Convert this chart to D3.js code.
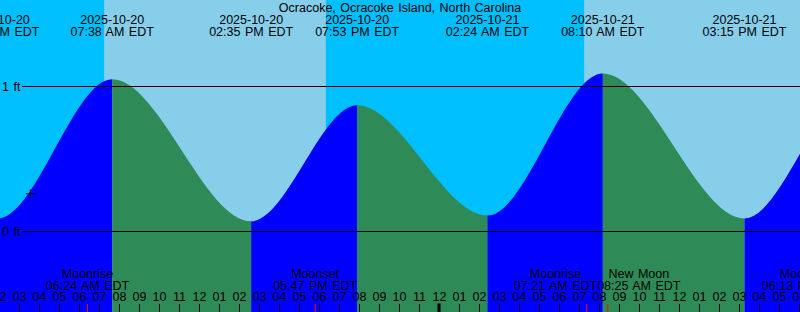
<!DOCTYPE html>
<html>
<head>
<meta charset="utf-8">
<script src="https://cdn.jsdelivr.net/npm/d3@7"></script>
<style>
  body { margin: 0; background: #fff; }
  svg { display: block; font-family: "Liberation Sans", Arial, sans-serif; font-size: 12.5px; word-spacing: 1px; }
</style>
</head>
<body>
<div id="chart"></div>
<script>
const width = 800, height = 312;

const title = "Ocracoke, Ocracoke Island, North Carolina";

// high / low tides (local EDT), first and last ones lie outside the window
const tideTimes = ["2025-10-19 19:10", "2025-10-20 01:55", "2025-10-20 07:38", "2025-10-20 14:35", "2025-10-20 19:53",
                   "2025-10-21 02:24", "2025-10-21 08:10", "2025-10-21 15:15", "2025-10-21 20:40", "2025-10-22 03:05"];
const tideHeights = [0.85, 0.09, 1.05, 0.07, 0.87, 0.11, 1.09, 0.09, 0.95, 0.12];

// sunrise / sunset
const sunTimes = ["2025-10-19 18:21", "2025-10-20 07:14", "2025-10-20 18:19", "2025-10-21 07:14", "2025-10-21 18:18"];
const sunKinds = ["set", "rise", "set", "rise", "set"];

// moon events
const moonTimes = ["2025-10-20 06:24", "2025-10-20 17:47", "2025-10-21 07:21", "2025-10-21 08:25", "2025-10-21 18:13"];
const moonNames = ["Moonrise", "Moonset", "Moonrise", "New Moon", "Moonset"];

const levelTicks = [0, 1];
const nowTime = "2025-10-20 03:31", nowHeight = 0.26;

const parse = d3.utcParse("%Y-%m-%d %H:%M");
const fmtDate = d3.utcFormat("%Y-%m-%d");
const fmtTime = d3.utcFormat("%I:%M %p EDT");
const fmtHour = d3.utcFormat("%I");

const t0 = parse("2025-10-20 02:00"), t1 = parse("2025-10-21 18:00");
const x = d3.scaleUtc().domain([t0, t1]).range([-0.5, 799.5]);
const y = d3.scaleLinear().domain([0, 1]).range([231.5, 86.5]);

const tides = tideTimes.map((t, i) => ({ t: parse(t), h: tideHeights[i] }));

const svg = d3.select("#chart").append("svg")
    .attr("width", width)
    .attr("height", height);

// sky: night deep blue, day light blue
const sun = sunTimes.map((t, i) => ({ t: parse(t), kind: sunKinds[i] }));
svg.append("rect").attr("width", width).attr("height", height).attr("fill", "#00BFFF");
sun.forEach(function(d, i) {
    if (d.kind !== "rise") return;
    const end = sun[i + 1] ? sun[i + 1].t : t1;
    svg.append("rect")
        .attr("x", x(d.t)).attr("y", 0)
        .attr("width", x(end) - x(d.t)).attr("height", height)
        .attr("fill", "#87CEEB");
});

// water below the tide curve, blue while rising, green while falling
const area = d3.area()
    .x(d => x(d.t))
    .y0(height + 10)
    .y1(d => y(d.h))
    .curve(d3.curveMonotoneX);

svg.append("clipPath").attr("id", "water")
  .append("path").attr("d", area(tides));

const water = svg.append("g").attr("clip-path", "url(#water)");
water.selectAll("rect")
    .data(d3.pairs(tides))
    .enter().append("rect")
    .attr("x", d => x(d[0].t))
    .attr("y", 0)
    .attr("width", d => x(d[1].t) - x(d[0].t))
    .attr("height", height)
    .attr("fill", d => d[1].h > d[0].h ? "#0000FF" : "#2E8B57");

// level lines
const levels = svg.append("g");
levelTicks.forEach(function(v) {
    levels.append("line")
        .attr("x1", 22).attr("x2", width)
        .attr("y1", y(v)).attr("y2", y(v))
        .attr("stroke", "#000");
    levels.append("text")
        .attr("x", 2).attr("y", y(v) + 4)
        .text(v + " ft");
});

// current time mark
const nx = x(parse(nowTime)), ny = y(nowHeight);
svg.append("path")
    .attr("d", `M${nx - 4},${ny}h9M${nx + 0.5},${ny - 4.5}v9`)
    .attr("stroke", "#000").attr("fill", "none");

// title
svg.append("text")
    .attr("x", width / 2).attr("y", 12)
    .attr("text-anchor", "middle")
    .text(title);

// tide event labels
const tl = svg.append("g").attr("text-anchor", "middle");
tides.forEach(function(d) {
    tl.append("text").attr("x", x(d.t)).attr("y", 23.5).text(fmtDate(d.t));
    tl.append("text").attr("x", x(d.t)).attr("y", 35.5).text(fmtTime(d.t));
});

// moon event labels, pushed side by side when they would collide
const moons = moonTimes.map((t, i) => ({ t: parse(t), name: moonNames[i] }));
const ml = svg.append("g").attr("text-anchor", "middle");
moons.forEach(function(d) {
    d.l1 = ml.append("text").attr("y", 278).text(d.name);
    d.l2 = ml.append("text").attr("y", 290).text(fmtTime(d.t));
    d.w = Math.max(d.l1.node().getComputedTextLength(), d.l2.node().getComputedTextLength());
});

let clusters = moons.map(d => ({ items: [d], cx: x(d.t) }));
let merged = true;
while (merged) {
    merged = false;
    for (let i = 0; i < clusters.length - 1; i++) {
        const a = clusters[i], b = clusters[i + 1];
        const wa = d3.sum(a.items, d => d.w), wb = d3.sum(b.items, d => d.w);
        if (a.cx + wa / 2 > b.cx - wb / 2) {
            const items = a.items.concat(b.items);
            clusters.splice(i, 2, { items: items, cx: d3.mean(items, d => x(d.t)) });
            merged = true;
            break;
        }
    }
}
clusters.forEach(function(c) {
    let left = c.cx - d3.sum(c.items, d => d.w) / 2;
    c.items.forEach(function(d) {
        d.l1.attr("x", left + d.w / 2);
        d.l2.attr("x", left + d.w / 2);
        left += d.w;
    });
});

// hour axis
const hours = d3.utcHour.range(t0, d3.utcHour.offset(t1, 1));
const ax = svg.append("g");
ax.selectAll("text")
    .data(hours)
    .enter().append("text")
    .attr("x", d => x(d))
    .attr("y", 301)
    .attr("text-anchor", "middle")
    .text(d => fmtHour(d));

ax.selectAll("rect.hour")
    .data(hours)
    .enter().append("rect")
    .attr("class", "hour")
    .attr("x", d => d.getUTCHours() === 0 ? x(d) - 2 : x(d) - 0.5)
    .attr("y", d => d.getUTCHours() === 0 ? 303.5 : 304)
    .attr("width", d => d.getUTCHours() === 0 ? 3 : 1)
    .attr("height", 9)
    .attr("fill", "#000");

ax.selectAll("rect.moon")
    .data(moons)
    .enter().append("rect")
    .attr("class", "moon")
    .attr("x", d => x(d.t) - 0.5)
    .attr("y", 304)
    .attr("width", 1)
    .attr("height", 9)
    .attr("fill", "#FF0000");
</script>
</body>
</html>
